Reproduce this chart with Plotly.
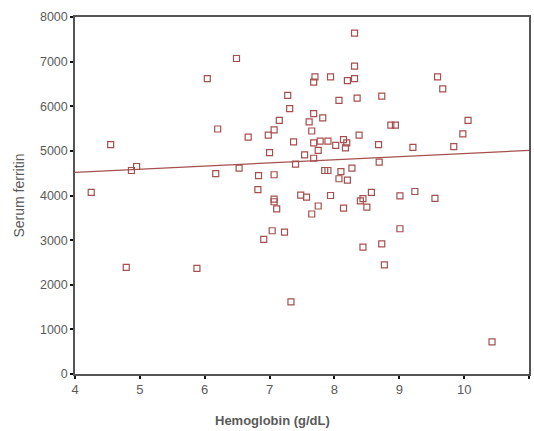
import plotly.graph_objects as go

hemoglobin = [4.25, 4.55, 4.87, 4.95, 4.79, 5.88, 6.04, 6.20, 6.17, 6.49,
              6.53, 6.67, 6.83, 6.82, 6.91, 7.04, 7.23, 7.33, 7.07, 7.11,
              7.07, 7.00, 7.07, 7.07, 6.98, 7.15, 7.28, 7.31, 7.37, 7.40,
              7.48, 7.57, 7.54, 7.61, 7.65, 7.65, 7.68, 7.68, 7.68, 7.70,
              7.68, 7.75, 7.75, 7.78, 7.82, 7.85, 7.90, 7.90, 7.94, 7.94,
              8.02, 8.07, 8.07, 8.10, 8.14, 8.14, 8.17, 8.19, 8.20, 8.20,
              8.27, 8.31, 8.31, 8.31, 8.35, 8.38, 8.40, 8.44, 8.50, 8.57,
              8.44, 8.68, 8.69, 8.73, 8.73, 8.77, 8.87, 8.94, 9.01, 9.01,
              9.21, 9.24, 9.55, 9.59, 9.67, 9.84, 9.98, 10.06, 10.43]
ferritin = [4070, 5140, 4560, 4650, 2390, 2365, 6620, 5490, 4490, 7070,
            4615, 5310, 4445, 4130, 3015, 3210, 3180, 1615, 3860, 3700,
            3920, 4960, 4465, 5470, 5355, 5685, 6245, 5945, 5200, 4705,
            4010, 3965, 4910, 5650, 5445, 3585, 5835, 5180, 4835, 6660,
            6540, 5010, 3765, 5220, 5740, 4560, 4560, 5220, 6660, 4000,
            5125, 6130, 4375, 4535, 5250, 3715, 5065, 5180, 6575, 4345,
            4615, 7640, 6900, 6620, 6180, 5355, 3880, 3930, 3740, 4070,
            2845, 5140, 4750, 6225, 2915, 2445, 5575, 5575, 3990, 3255,
            5080, 4090, 3935, 6660, 6390, 5095, 5380, 5685, 720]

fit_x = [4, 11]
fit_y = [4520, 5010]

x_ticks = [4, 5, 6, 7, 8, 9, 10, 11]
y_ticks = [0, 1000, 2000, 3000, 4000, 5000, 6000, 7000, 8000]

red = "#a5504e"
grey_text = "#5a5a5a"

fig = go.Figure()
fig.add_trace(go.Scatter(
    x=hemoglobin, y=ferritin, mode="markers",
    marker=dict(symbol="square-open", size=6, color=red, line=dict(width=1.2, color=red)),
    showlegend=False, hoverinfo="x+y"))
fig.add_trace(go.Scatter(
    x=fit_x, y=fit_y, mode="lines",
    line=dict(color=red, width=1.2), showlegend=False, hoverinfo="skip"))

fig.update_layout(
    width=534, height=431,
    margin=dict(l=75, r=3, t=17, b=57),
    paper_bgcolor="white", plot_bgcolor="white",
    font=dict(family="Liberation Sans, Arial, sans-serif", color=grey_text),
    xaxis=dict(range=[4, 11], tickvals=x_ticks, ticktext=[str(v) for v in x_ticks],
               showgrid=False, zeroline=False, showline=True, linecolor="#555", linewidth=1.5,
               mirror=True, ticks="outside", ticklen=3, tickwidth=2, tickcolor="#111",
               tickfont=dict(size=13, color=grey_text)),
    yaxis=dict(range=[0, 8000], tickvals=y_ticks, ticktext=[str(v) for v in y_ticks],
               showgrid=False, zeroline=False, showline=True, linecolor="#555", linewidth=1.5,
               mirror=True, ticks="outside", ticklen=3, tickwidth=2, tickcolor="#111",
               tickfont=dict(size=12.5, color=grey_text),
               title=dict(text="Serum ferritin", font=dict(size=14, color=grey_text), standoff=12)),
    annotations=[dict(text="<b>Hemoglobin (g/dL)</b>", xref="paper", yref="paper",
                      x=0.436, y=-0.13, xanchor="center", yanchor="middle",
                      showarrow=False, font=dict(size=13, color=grey_text))],
)

fig.write_html("out.html")
